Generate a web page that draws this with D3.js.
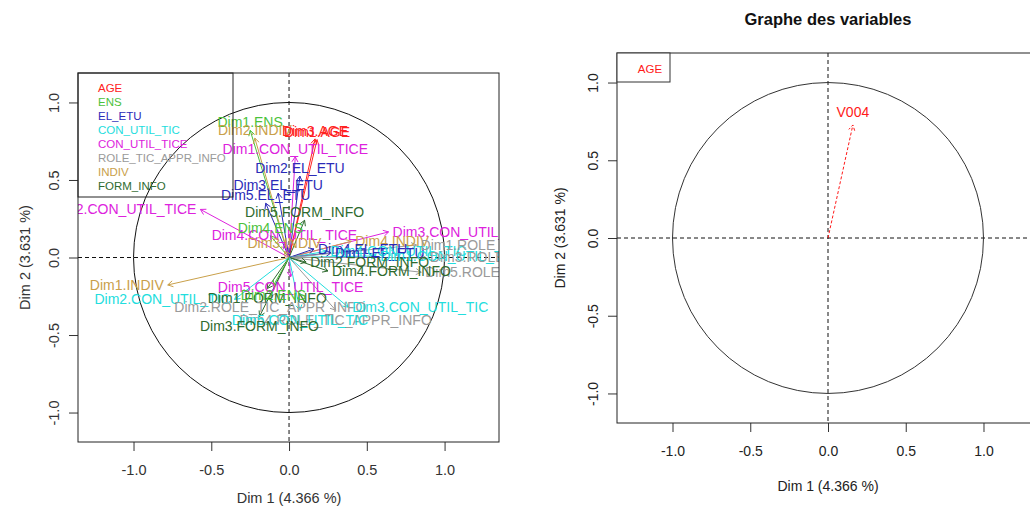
<!DOCTYPE html>
<html>
<head>
<meta charset="utf-8">
<script src="https://cdn.jsdelivr.net/npm/d3@7"></script>
<style>
    body { margin: 0; background: #fff; }
    svg text { font-family: "Liberation Sans", Arial, sans-serif; }
</style>
</head>
<body>
<div class="chart"></div>
<script>

//Variables (legend of the left panel) and their colours
let groups = ["AGE", "ENS", "EL_ETU", "CON_UTIL_TIC", "CON_UTIL_TICE", "ROLE_TIC_APPR_INFO", "INDIV", "FORM_INFO"];
let groupColors = ["#ff2222", "#4cc23c", "#2b2bb8", "#22dddd", "#dd22dd", "#9a9a9a", "#c9a04a", "#2f6b2f"];

//Arrows of the left panel: name, variable index, coordinates on Dim 1 / Dim 2
let arrowNames = [
    "Dim1.ENS", "Dim2.INDIV", "Dim3.AGE", "Dim1.AGE", "Dim1.CON_UTIL_TICE",
    "Dim2.EL_ETU", "Dim3.EL_ETU", "Dim5.EL_ETU", "Dim5.FORM_INFO", "Dim2.CON_UTIL_TICE",
    "Dim4.CON_UTIL_TICE", "Dim4.ENS", "Dim3.INDIV", "Dim3.CON_UTIL_TICE", "Dim4.INDIV",
    "Dim4.EL_ETU", "Dim4.CON_UTIL_TIC", "Dim1.EL_ETU", "Dim1.CON_UTIL_TIC", "Dim1.ROLE_TIC_APPR_INFO",
    "Dim3.ROLE_TIC_APPR_INFO", "Dim5.ROLE_TIC_APPR_INFO", "Dim2.FORM_INFO", "Dim4.FORM_INFO", "Dim1.INDIV",
    "Dim2.CON_UTIL_TIC", "Dim5.CON_UTIL_TICE", "Dim1.FORM_INFO", "Dim2.ROLE_TIC_APPR_INFO", "Dim3.CON_UTIL_TIC",
    "Dim4.ROLE_TIC_APPR_INFO", "Dim5.CON_UTIL_TIC", "Dim3.FORM_INFO", "Dim2.ENS"
];
let arrowGroup = [
    1, 6, 0, 0, 4,
    2, 2, 2, 7, 4,
    4, 1, 6, 4, 6,
    2, 3, 2, 3, 5,
    5, 5, 7, 7, 6,
    3, 4, 7, 5, 3,
    5, 3, 7, 1
];
let arrowX = [
    -0.25, -0.22, 0.167, 0.18, 0.04,
    0.07, -0.07, -0.15, 0.10, -0.57,
    -0.03, -0.12, -0.03, 0.64, 0.40,
    0.16, 0.24, 0.27, 0.56, 0.82,
    0.88, 0.85, 0.11, 0.25, -0.78,
    -0.35, 0.01, -0.14, -0.12, 0.38,
    0.30, 0.07, -0.19, -0.10
];
let arrowY = [
    0.82, 0.77, 0.765, 0.76, 0.65,
    0.525, 0.415, 0.35, 0.24, 0.31,
    0.09, 0.14, 0.04, 0.165, 0.105,
    0.055, 0.04, 0.03, 0.01, 0.08,
    0.0, -0.095, -0.03, -0.087, -0.177,
    -0.27, -0.125, -0.20, -0.255, -0.32,
    -0.34, -0.34, -0.38, -0.18
];

//Right panel: one supplementary variable
let rightLegend = ["AGE"];
let rightNames = ["V004"];
let rightX = [0.16];
let rightY = [0.727];

let tickValues = [-1, -0.5, 0, 0.5, 1];
let xTitle = "Dim 1 (4.366 %)";
let yTitle = "Dim 2 (3.631 %)";
let mainTitle = "Graphe des variables";

//R prints a plain hyphen for negatives
let tickFormat = d => d.toFixed(1);

//open arrow head like R's arrows()
function arrowPath(x0, y0, x1, y1, len) {
    let a = Math.atan2(y1 - y0, x1 - x0);
    let s = Math.PI / 6;
    return `M${x0},${y0}L${x1},${y1}` +
        `M${x1 - len * Math.cos(a - s)},${y1 - len * Math.sin(a - s)}L${x1},${y1}` +
        `L${x1 - len * Math.cos(a + s)},${y1 - len * Math.sin(a + s)}`;
}

//draws frame, axes, circle and dashed lines; returns scales
function drawPanel(svg, p) {
    let xScale = d3.scaleLinear().domain(p.xDomain).range([p.left, p.right]);
    let yScale = d3.scaleLinear().domain(p.yDomain).range([p.bottom, p.top]);

    let g = svg.append("g").attr("class", p.id);

    let clipId = "clip-" + p.id;
    svg.append("clipPath").attr("id", clipId)
        .append("rect")
        .attr("x", p.left).attr("y", p.top)
        .attr("width", p.right - p.left).attr("height", p.bottom - p.top);

    let xAxis = g.append("g")
        .attr("transform", `translate(0,${p.bottom})`)
        .call(d3.axisBottom(xScale).tickValues(tickValues).tickSize(9).tickSizeOuter(0)
            .tickFormat(tickFormat));
    xAxis.selectAll("text")
        .attr("y", p.xLabelOff).attr("dy", "0.35em")
        .style("font-size", p.fontSize).attr("fill", p.textColor);

    let yAxis = g.append("g")
        .attr("transform", `translate(${p.left},0)`)
        .call(d3.axisLeft(yScale).tickValues(tickValues).tickSize(9).tickSizeOuter(0)
            .tickFormat(tickFormat));
    yAxis.selectAll("text")
        .attr("transform", "rotate(-90)")
        .attr("x", 0).attr("y", -24).attr("dy", "0.35em")
        .attr("text-anchor", "middle")
        .style("font-size", p.fontSize).attr("fill", p.textColor);

    g.selectAll(".domain").remove();
    g.selectAll(".tick line").attr("stroke", "#333");

    //axis titles
    g.append("text")
        .attr("x", xScale(0)).attr("y", p.bottom + p.xTitleOff)
        .attr("text-anchor", "middle").attr("dy", "0.35em")
        .style("font-size", p.fontSize).attr("fill", p.textColor)
        .text(xTitle);
    g.append("text")
        .attr("transform", `translate(${p.left - p.yTitleOff},${yScale(0)}) rotate(-90)`)
        .attr("text-anchor", "middle").attr("dy", "0.35em")
        .style("font-size", p.fontSize).attr("fill", p.textColor)
        .text(yTitle);

    let inner = g.append("g").attr("clip-path", `url(#${clipId})`);

    //dashed axes through origin
    inner.append("line")
        .attr("x1", p.left).attr("x2", p.right)
        .attr("y1", yScale(0)).attr("y2", yScale(0))
        .attr("stroke", "#111").attr("stroke-dasharray", "4,3");
    inner.append("line")
        .attr("x1", xScale(0)).attr("x2", xScale(0))
        .attr("y1", p.top).attr("y2", p.bottom)
        .attr("stroke", "#111").attr("stroke-dasharray", "4,3");

    //correlation circle
    inner.append("ellipse")
        .attr("cx", xScale(0)).attr("cy", yScale(0))
        .attr("rx", xScale(1) - xScale(0)).attr("ry", yScale(0) - yScale(1))
        .attr("fill", "none").attr("stroke", p.circleColor);

    //frame
    g.append("rect")
        .attr("x", p.left).attr("y", p.top)
        .attr("width", p.right - p.left).attr("height", p.bottom - p.top)
        .attr("fill", "none").attr("stroke", "#222");

    return { xScale: xScale, yScale: yScale, inner: inner, g: g };
}

function init() {

    let svg = d3.select(".chart").append("svg")
        .attr("width", 1030)
        .attr("height", 513);

    svg.append("rect").attr("width", 1030).attr("height", 513).attr("fill", "#fff");

    // ---- left panel ----
    let L = drawPanel(svg, {
        id: "left", left: 78, right: 499, top: 73, bottom: 442,
        xDomain: [-1.357, 1.35], yDomain: [-1.19, 1.19],
        xLabelOff: 28, xTitleOff: 56, yTitleOff: 53, circleColor: "#111",
        fontSize: "14.5px", textColor: "#333"
    });

    let idx = d3.range(arrowNames.length);

    L.inner.selectAll("path.arrow")
        .data(idx)
        .join("path")
        .attr("class", "arrow")
        .attr("d", i => arrowPath(L.xScale(0), L.yScale(0), L.xScale(arrowX[i]), L.yScale(arrowY[i]), 6))
        .attr("fill", "none")
        .attr("stroke", i => groupColors[arrowGroup[i]])
        .attr("stroke-width", 1);

    //label to the side for flat arrows, above/below for steep ones
    L.inner.selectAll("text.lab")
        .data(idx)
        .join("text")
        .attr("class", "lab")
        .attr("x", i => {
            let px = L.xScale(arrowX[i]);
            if (Math.abs(arrowX[i]) >= Math.abs(arrowY[i])) return arrowX[i] < 0 ? px - 4 : px + 4;
            return px;
        })
        .attr("y", i => {
            let py = L.yScale(arrowY[i]);
            if (Math.abs(arrowX[i]) >= Math.abs(arrowY[i])) return py;
            return arrowY[i] > 0 ? py - 8 : py + 10;
        })
        .attr("dy", "0.35em")
        .attr("text-anchor", i => {
            if (Math.abs(arrowX[i]) >= Math.abs(arrowY[i])) return arrowX[i] < 0 ? "end" : "start";
            return "middle";
        })
        .style("font-size", "14px")
        .attr("fill", i => groupColors[arrowGroup[i]])
        .text(i => arrowNames[i]);

    //legend
    L.g.append("rect")
        .attr("x", 78).attr("y", 73).attr("width", 155).attr("height", 124)
        .attr("fill", "none").attr("stroke", "#222");
    L.g.selectAll("text.leg")
        .data(groups)
        .join("text")
        .attr("class", "leg")
        .attr("x", 98)
        .attr("y", (d, i) => 88 + i * 14)
        .attr("dy", "0.35em")
        .style("font-size", "11.5px")
        .attr("fill", (d, i) => groupColors[i])
        .text(d => d);

    // ---- right panel ----
    let R = drawPanel(svg, {
        id: "right", left: 617, right: 1039, top: 53, bottom: 423,
        xDomain: [-1.357, 1.357], yDomain: [-1.19, 1.19],
        xLabelOff: 28, xTitleOff: 63, yTitleOff: 57, circleColor: "#333",
        fontSize: "14px", textColor: "#222"
    });

    svg.append("text")
        .attr("x", 828).attr("y", 19)
        .attr("text-anchor", "middle").attr("dy", "0.35em")
        .style("font-size", "16.5px").style("font-weight", "bold")
        .attr("fill", "#111")
        .text(mainTitle);

    R.inner.selectAll("path.arrow")
        .data(rightNames)
        .join("path")
        .attr("class", "arrow")
        .attr("d", (d, i) => arrowPath(R.xScale(0), R.yScale(0), R.xScale(rightX[i]), R.yScale(rightY[i]), 6))
        .attr("fill", "none")
        .attr("stroke", "#ff1a1a")
        .attr("stroke-dasharray", "3,2");

    R.inner.selectAll("text.lab")
        .data(rightNames)
        .join("text")
        .attr("class", "lab")
        .attr("x", (d, i) => R.xScale(rightX[i]))
        .attr("y", (d, i) => R.yScale(rightY[i]) - 13)
        .attr("dy", "0.35em")
        .attr("text-anchor", "middle")
        .style("font-size", "14px")
        .attr("fill", "#ff1a1a")
        .text(d => d);

    R.g.append("rect")
        .attr("x", 617).attr("y", 53).attr("width", 53).attr("height", 29)
        .attr("fill", "#fff").attr("stroke", "#333");
    R.g.selectAll("text.leg")
        .data(rightLegend)
        .join("text")
        .attr("class", "leg")
        .attr("x", 650)
        .attr("y", 69)
        .attr("dy", "0.35em")
        .attr("text-anchor", "middle")
        .style("font-size", "11.5px")
        .attr("fill", "#ff1a1a")
        .text(d => d);
}

init();

</script>
</body>
</html>
